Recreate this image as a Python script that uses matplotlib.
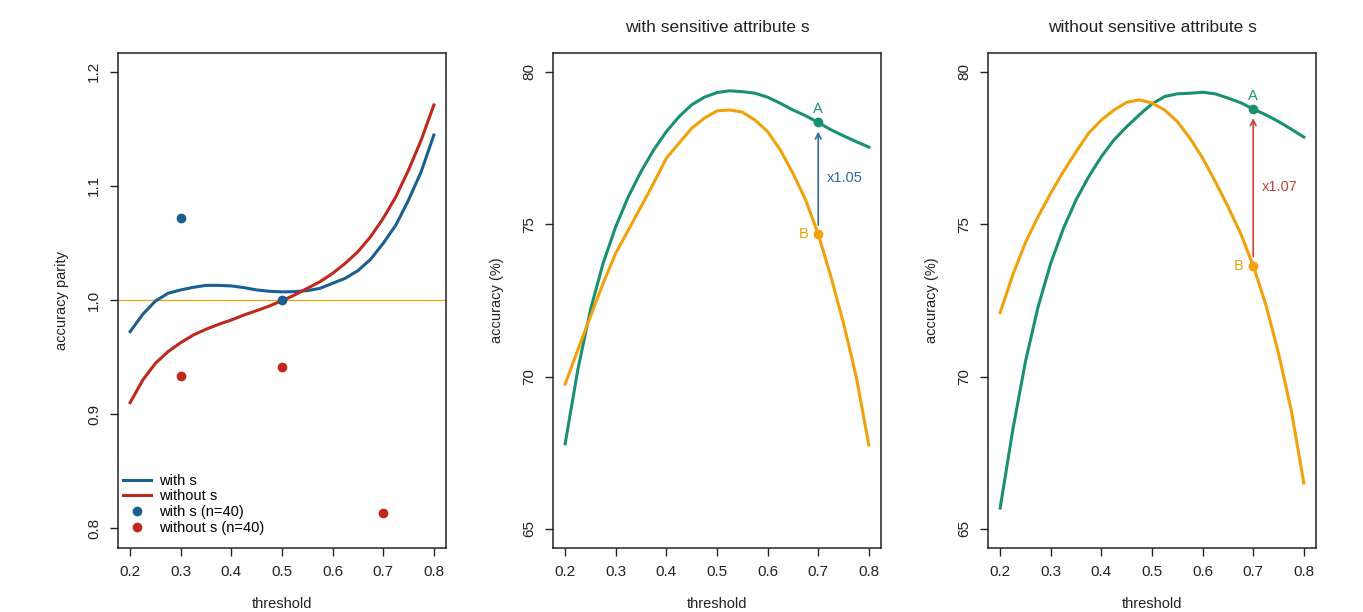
import numpy as np
import matplotlib
matplotlib.use("Agg")
import matplotlib.pyplot as plt

plt.rcParams['font.family'] = ['Liberation Sans', 'DejaVu Sans']

# --- DATA ---
thr = [0.2, 0.225, 0.25, 0.275, 0.3, 0.325, 0.35, 0.375, 0.4, 0.425, 0.45, 0.475, 0.5,
       0.525, 0.55, 0.575, 0.6, 0.625, 0.65, 0.675, 0.7, 0.725, 0.75, 0.775, 0.8]

# panel 1: accuracy parity
parity_with = [0.9723, 0.9875, 0.9991, 1.0059, 1.0088, 1.0111, 1.0128, 1.0128, 1.0123, 1.0108,
               1.0088, 1.0076, 1.0071, 1.0073, 1.0082, 1.0102, 1.0146, 1.0190, 1.0257, 1.0356,
               1.0496, 1.0656, 1.0875, 1.1123, 1.1444]
parity_without = [0.9101, 0.9300, 0.9446, 0.9548, 0.9627, 0.9694, 0.9744, 0.9787, 0.9825, 0.9869,
                  0.9907, 0.9947, 0.9994, 1.0044, 1.0102, 1.0160, 1.0233, 1.0321, 1.0423, 1.0554,
                  1.0715, 1.0904, 1.1138, 1.1400, 1.1707]
pts_with_x = [0.3, 0.5]
pts_with_y = [1.0715, 1.0]
pts_without_x = [0.3, 0.5, 0.7]
pts_without_y = [0.9335, 0.941, 0.8136]

# panel 2: with sensitive attribute s
acc_with_A = [67.79, 70.22, 72.19, 73.72, 74.92, 75.91, 76.73, 77.44, 78.04, 78.53, 78.92, 79.17,
              79.32, 79.38, 79.35, 79.30, 79.17, 78.97, 78.75, 78.56, 78.34, 78.10, 77.90, 77.71, 77.53]
acc_with_B = [69.75, 70.87, 71.97, 73.06, 74.05, 74.81, 75.58, 76.35, 77.17, 77.66, 78.15, 78.48,
              78.72, 78.75, 78.68, 78.42, 78.04, 77.44, 76.67, 75.80, 74.67, 73.28, 71.75, 70.00, 67.75]

# panel 3: without sensitive attribute s
acc_without_A = [65.68, 68.25, 70.49, 72.29, 73.72, 74.86, 75.80, 76.56, 77.22, 77.77, 78.20, 78.59,
                 78.95, 79.19, 79.28, 79.30, 79.33, 79.28, 79.14, 78.99, 78.78, 78.59, 78.37, 78.12, 77.86]
acc_without_B = [72.10, 73.34, 74.40, 75.25, 76.02, 76.73, 77.38, 77.99, 78.42, 78.75, 79.00, 79.08,
                 78.98, 78.75, 78.37, 77.82, 77.17, 76.40, 75.58, 74.70, 73.64, 72.35, 70.76, 68.90, 66.50]

ratio_labels = ["x1.05", "x1.07"]
x_ticks = [0.2, 0.3, 0.4, 0.5, 0.6, 0.7, 0.8]

# --- STYLE ---
BLUE = '#1a5f91'
RED = '#c0281e'
GREEN = '#1a9073'
ORANGE = '#f0a10b'
ARROW_BLUE = '#2f6a9b'
ARROW_RED = '#c9403c'
DARK = '#222222'

W, H = 1363, 612
fig = plt.figure(figsize=(W / 100, H / 100), dpi=100)


def make_axes(left_px):
    ax = fig.add_axes([left_px / W, (H - 548) / H, 328 / W, 495 / H])
    ax.set_xlim(0.176, 0.824)
    ax.set_xticks(x_ticks)
    ax.set_xticklabels([f"{t:.1f}" for t in x_ticks])
    ax.tick_params(direction='out', length=6, width=1, colors=DARK, labelsize=11, pad=6)
    ax.tick_params(axis='y', labelrotation=90)
    for sp in ax.spines.values():
        sp.set_linewidth(1.1)
        sp.set_color(DARK)
    # the reference crops this label at the bottom edge; keep it just inside
    ax.set_xlabel("threshold", fontsize=10.5, labelpad=13, color=DARK)
    return ax


# panel 1
ax1 = make_axes(118)
ax1.set_ylim(0.7829, 1.2162)
ax1.set_yticks([0.8, 0.9, 1.0, 1.1, 1.2])
ax1.set_yticklabels(["0.8", "0.9", "1.0", "1.1", "1.2"], va='center')
ax1.axhline(1.0, color=ORANGE, lw=0.9, zorder=1)
ax1.plot(thr, parity_with, color=BLUE, lw=2.2, label="with s")
ax1.plot(thr, parity_without, color=RED, lw=2.2, label="without s")
ax1.plot(pts_with_x, pts_with_y, 'o', color=BLUE, ms=6, label="with s (n=40)")
ax1.plot(pts_without_x, pts_without_y, 'o', color=RED, ms=6, label="without s (n=40)")
ax1.set_ylabel("accuracy parity", fontsize=10.5, labelpad=13, color=DARK)
ax1.legend(loc='lower left', bbox_to_anchor=(-0.025, 0.0), frameon=False, fontsize=10.5,
           handlelength=1.9, handletextpad=0.6, labelspacing=0.12,
           borderaxespad=0.6, borderpad=0.3)


def acc_panel(left_px, title, a_vals, b_vals, label, arrow_col):
    ax = make_axes(left_px)
    ax.set_ylim(64.37, 80.62)
    ax.set_yticks([65, 70, 75, 80])
    ax.set_yticklabels(["65", "70", "75", "80"], va='center')
    ax.plot(thr, a_vals, color=GREEN, lw=2.2)
    ax.plot(thr, b_vals, color=ORANGE, lw=2.2)
    i = thr.index(0.7)
    ya, yb = a_vals[i], b_vals[i]
    ax.plot([0.7], [ya], 'o', color=GREEN, ms=6)
    ax.plot([0.7], [yb], 'o', color=ORANGE, ms=6)
    ax.annotate("", xy=(0.7, ya - 0.3), xytext=(0.7, yb + 0.3),
                arrowprops=dict(arrowstyle='->', color=arrow_col, lw=1.2,
                                mutation_scale=10, shrinkA=0, shrinkB=0))
    ax.text(0.7, ya + 0.2, "A", color=GREEN, fontsize=10.5, ha='center', va='bottom')
    ax.text(0.68, yb, "B", color=ORANGE, fontsize=10.5, ha='right', va='center')
    ax.text(0.716, (ya + yb) / 2, label, color=arrow_col, fontsize=10.5,
            ha='left', va='center')
    ax.set_ylabel("accuracy (%)", fontsize=10.5, labelpad=13, color=DARK)
    ax.set_title(title, fontsize=12.5, pad=15, color=DARK)
    return ax


acc_panel(553, "with sensitive attribute s", acc_with_A, acc_with_B, ratio_labels[0], ARROW_BLUE)
acc_panel(988, "without sensitive attribute s", acc_without_A, acc_without_B, ratio_labels[1], ARROW_RED)

fig.savefig("out.png", dpi=100)
